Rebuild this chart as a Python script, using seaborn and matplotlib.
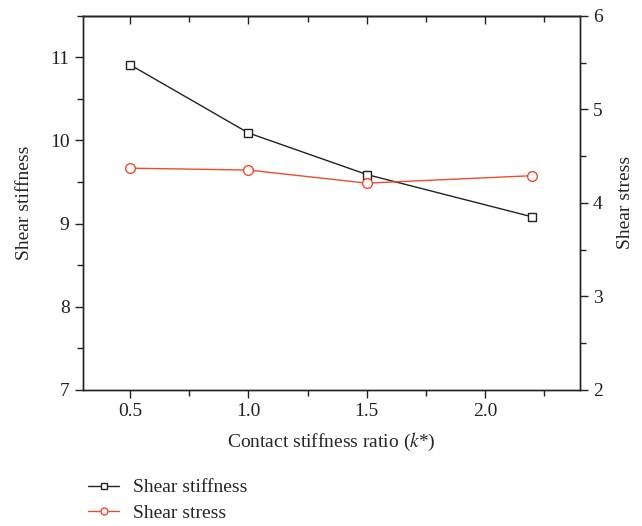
import matplotlib
matplotlib.use("Agg")
import matplotlib.pyplot as plt
import seaborn as sns
from matplotlib.ticker import MultipleLocator
from matplotlib.lines import Line2D

# data
k_ratio = [0.5, 1.0, 1.5, 2.2]
shear_stiffness = [10.91, 10.09, 9.59, 9.08]
shear_stress = [4.37, 4.35, 4.21, 4.29]

red = "#f04a2c"
ink = "#222222"

sns.set_style("ticks")
plt.rcParams["font.family"] = ["Liberation Serif", "DejaVu Serif"]
plt.rcParams["mathtext.fontset"] = "stix"

fig = plt.figure(figsize=(6.42, 5.26), dpi=100)
ax = fig.add_axes([0.129, 0.259, 0.774, 0.711])
ax2 = ax.twinx()

sns.lineplot(x=k_ratio, y=shear_stiffness, ax=ax, color=ink, lw=1.0,
             marker="s", markersize=6, markerfacecolor="white",
             markeredgecolor=ink, markeredgewidth=1.0)
sns.lineplot(x=k_ratio, y=shear_stress, ax=ax2, color=red, lw=1.0,
             marker="o", markersize=7, markerfacecolor="white",
             markeredgecolor=red, markeredgewidth=1.0)

ax.set_xlim(0.3, 2.4)
ax.set_ylim(7, 11.5)
ax2.set_ylim(2, 6)

ax.xaxis.set_major_locator(MultipleLocator(0.5))
ax.xaxis.set_minor_locator(MultipleLocator(0.25))
ax.yaxis.set_major_locator(MultipleLocator(1))
ax.yaxis.set_minor_locator(MultipleLocator(0.5))
ax2.yaxis.set_major_locator(MultipleLocator(1))
ax2.yaxis.set_minor_locator(MultipleLocator(0.5))
ax.xaxis.set_major_formatter(matplotlib.ticker.FormatStrFormatter("%.1f"))

fs = 14
for a in (ax, ax2):
    for s in a.spines.values():
        s.set_linewidth(1.0)
        s.set_color(ink)
        s.set_visible(True)
ax.tick_params(axis="both", which="major", length=6, width=1, labelsize=fs,
               direction="out", colors=ink)
ax.tick_params(axis="both", which="minor", length=4, width=1, direction="out",
               colors=ink)
ax2.tick_params(axis="y", which="major", length=6, width=1, labelsize=fs,
                direction="out", colors=ink)
ax2.tick_params(axis="y", which="minor", length=4, width=1, direction="out",
                colors=ink)

# top ticks point inward
top = ax.secondary_xaxis("top")
top.xaxis.set_major_locator(MultipleLocator(0.5))
top.xaxis.set_minor_locator(MultipleLocator(0.25))
top.tick_params(which="major", direction="in", length=6, width=1, labeltop=False,
                colors=ink)
top.tick_params(which="minor", direction="in", length=4, width=1, colors=ink)
top.spines["top"].set_linewidth(1.0)

ax.set_xlabel(r"Contact stiffness ratio ($k$*)", fontsize=fs, labelpad=8)
ax.set_ylabel("Shear stiffness", fontsize=fs, labelpad=12)
ax2.set_ylabel("Shear stress", fontsize=fs, labelpad=10)

handles = [
    Line2D([], [], color=ink, lw=1.0, marker="s", markersize=5,
           markerfacecolor="white", markeredgecolor=ink),
    Line2D([], [], color=red, lw=1.0, marker="o", markersize=5,
           markerfacecolor="white", markeredgecolor=red),
]
fig.legend(handles, ["Shear stiffness", "Shear stress"], loc="lower left",
           bbox_to_anchor=(0.11, -0.026), frameon=False, fontsize=fs,
           handlelength=1.6, labelspacing=0.42, handletextpad=0.7)

fig.savefig("out.png", dpi=100)
